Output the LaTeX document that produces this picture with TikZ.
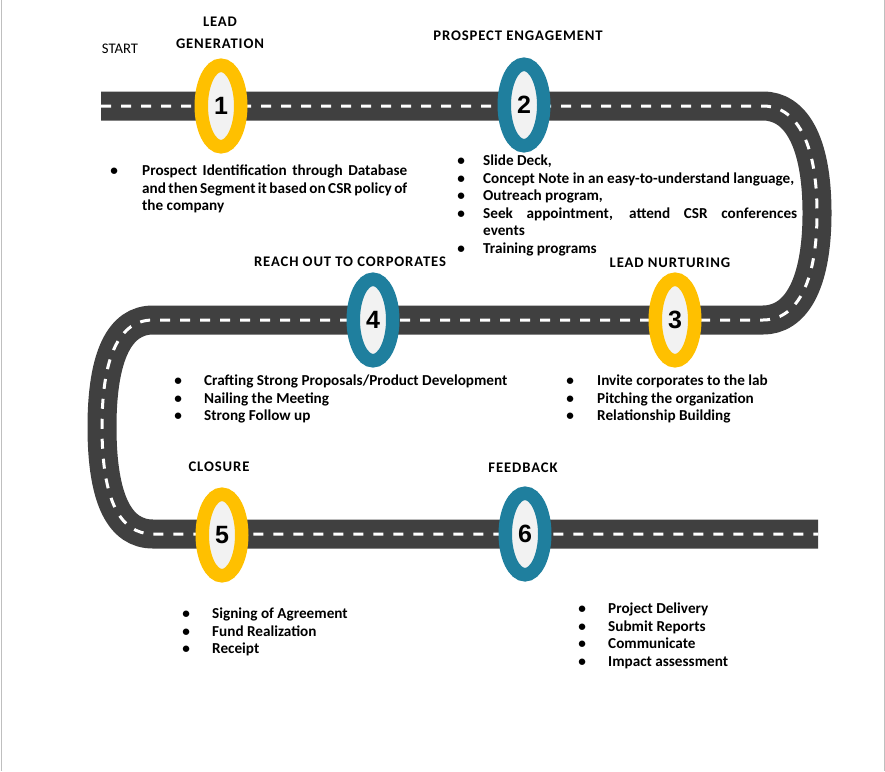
\documentclass[tikz,border=0pt]{standalone}
\usepackage{fontspec}
\setmainfont{Carlito}
\newfontfamily\headfont[LetterSpace=6]{Carlito}
\newfontfamily\numfont{Liberation Sans}
\usepackage{enumitem}
\setlist[itemize]{nosep, leftmargin=0pt, label=\makebox[0pt]{\textbullet}}
\usetikzlibrary{shapes.geometric}

\definecolor{road}{HTML}{404040}
\definecolor{gold}{HTML}{FFC000}
\definecolor{petrol}{HTML}{1F7F9E}
\definecolor{innergrey}{HTML}{F2F2F2}
\definecolor{frame}{HTML}{BFBFBF}

\def\roadpath{(101,106) -- (763,106) .. controls (795,106) and (817,140) .. (817,213)
  .. controls (817,286) and (795,320) .. (763,320) -- (153,320)
  .. controls (120,320) and (102,355) .. (102,427)
  .. controls (102,500) and (120,534) .. (153,534) -- (818,534)}

\begin{document}
\begin{tikzpicture}[x=1pt, y=-1pt,
    milestone/.style={ellipse, draw=#1, line width=13.5pt, fill=innergrey,
      minimum width=39.5pt, minimum height=81.5pt, inner sep=0,
      font=\numfont\bfseries\fontsize{25}{25}\selectfont},
    phase/.style={inner sep=0, align=center, anchor=base,
      font=\headfont\bfseries\fontsize{14.67}{22}\selectfont},
    pts/.style={anchor=north west, inner sep=0, text width=#1, align=justify,
      font=\bfseries\fontsize{15.2}{17.5}\selectfont}]
    \useasboundingbox (0,0) rectangle (885,771);
    \draw[frame] (1,0) -- (1,771);
    \draw[frame] (884,0) -- (884,771);

    % road
    \draw[road, line width=29pt] \roadpath;
    \draw[white, line width=3pt, dash pattern=on 10pt off 10pt] \roadpath;

    % milestones
    \node[milestone=gold] (m1) at (221,106) {1};
    \node[milestone=petrol] (m2) at (524,105) {2};
    \node[milestone=gold] (m3) at (675,320) {3};
    \node[milestone=petrol] (m4) at (373,320) {4};
    \node[milestone=gold] (m5) at (222,535) {5};
    \node[milestone=petrol] (m6) at (525,534) {6};

    % phase titles
    \node[inner sep=0, anchor=base, font=\fontsize{14.67}{17.5}\selectfont] (start) at (120,53) {START};
    \node[phase] (h1) at (220,48) {LEAD\\GENERATION};
    \node[phase] (h2) at (518,40) {PROSPECT ENGAGEMENT};
    \node[phase] (h3) at (670,267) {LEAD NURTURING};
    \node[phase] (h4) at (350,266) {REACH OUT TO CORPORATES};
    \node[phase] (h5) at (219,471) {CLOSURE};
    \node[phase] (h6) at (523,472) {FEEDBACK};

    % what happens at each step
    \node[pts=265pt] (l1) at (142,158) {\begin{itemize}[labelsep=28pt]
      \item Prospect Identification through Database\linebreak and then Segment it based on CSR policy of\linebreak the company
    \end{itemize}};
    \node[pts=314pt] (l2) at (483,148) {\begin{itemize}[labelsep=22pt]
      \item Slide Deck,
      \item Concept Note in an easy-to-understand language,
      \item Outreach program,
      \item Seek appointment, attend CSR conferences\linebreak events
      \item Training programs
    \end{itemize}};
    \node[pts=220pt] (l3) at (597,368) {\begin{itemize}[labelsep=27pt]
      \item Invite corporates to the lab
      \item Pitching the organization
      \item Relationship Building
    \end{itemize}};
    \node[pts=330pt] (l4) at (204,368) {\begin{itemize}[labelsep=26pt]
      \item Crafting Strong Proposals/Product Development
      \item Nailing the Meeting
      \item Strong Follow up
    \end{itemize}};
    \node[pts=220pt] (l5) at (212,601) {\begin{itemize}[labelsep=26pt]
      \item Signing of Agreement
      \item Fund Realization
      \item Receipt
    \end{itemize}};
    \node[pts=220pt] (l6) at (608,596) {\begin{itemize}[labelsep=26pt]
      \item Project Delivery
      \item Submit Reports
      \item Communicate
      \item Impact assessment
    \end{itemize}};
\end{tikzpicture}
\end{document}
